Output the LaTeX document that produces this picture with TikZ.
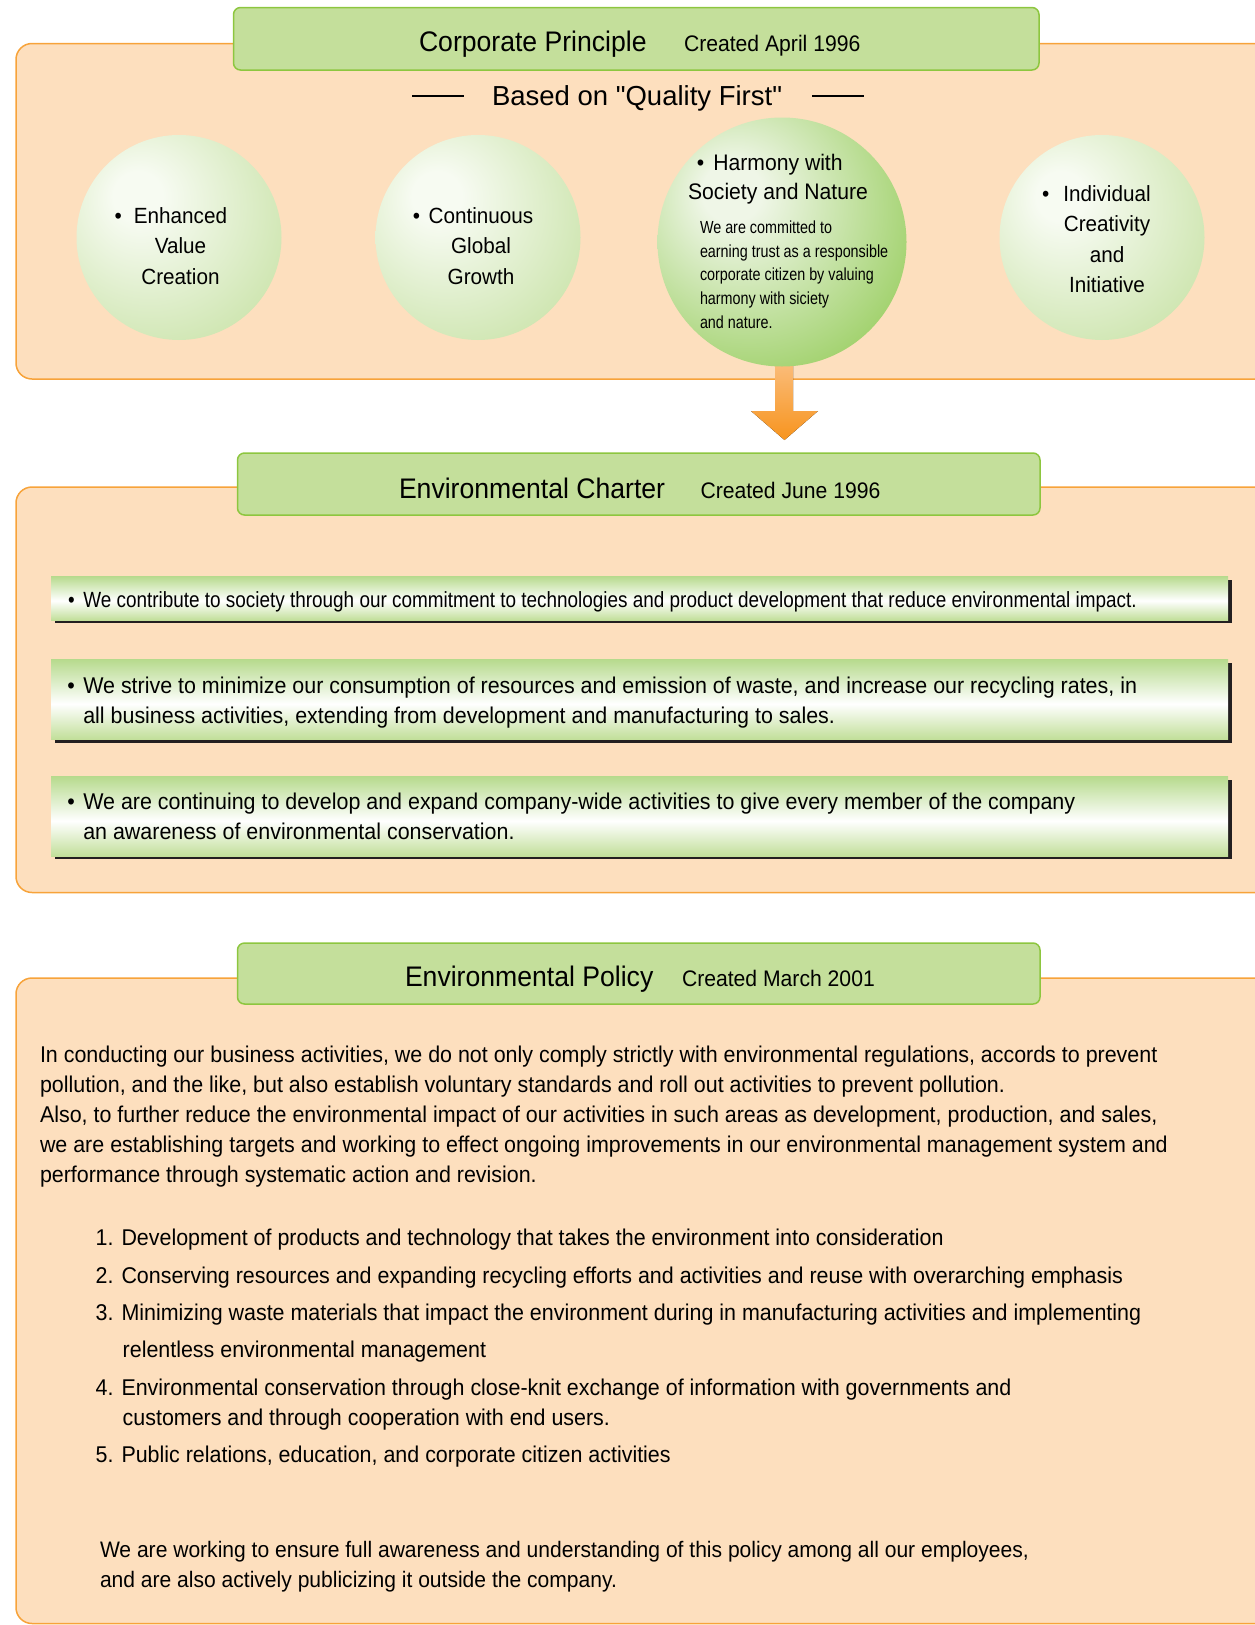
\documentclass[tikz,border=0pt]{standalone}
\usepackage{fontspec}
\setmainfont{Liberation Sans}[FakeStretch=0.94]
\newfontfamily\widefont{Liberation Sans}
\newfontfamily\narrowfont{Liberation Sans}[FakeStretch=0.82]
\newfontfamily\barnarrow{Liberation Sans}[FakeStretch=0.86]
\definecolor{peach}{HTML}{FDDFBE}
\definecolor{peachline}{HTML}{F7A33A}
\definecolor{hdrfill}{HTML}{C4DF9B}
\definecolor{hdrline}{HTML}{8DC63F}
\definecolor{barG}{HTML}{B6DA8C}
\definecolor{barG2}{HTML}{C2DF9A}
\definecolor{shadowc}{HTML}{231F20}
\definecolor{paleA}{HTML}{F7FBF2}
\definecolor{paleB}{HTML}{C6E1A3}
\definecolor{strongA}{HTML}{EFF6E7}
\definecolor{strongB}{HTML}{8BC74A}
\definecolor{arrTop}{HTML}{FBC690}
\definecolor{arrBot}{HTML}{F7941E}
\pgfdeclareradialshading{palecirc}{\pgfpoint{-11bp}{11bp}}{color(0bp)=(paleA); color(6bp)=(paleA); color(40bp)=(paleB); color(70bp)=(paleB)}
\pgfdeclareradialshading{strongcirc}{\pgfpoint{-11bp}{11bp}}{color(0bp)=(strongA); color(6bp)=(strongA); color(42bp)=(strongB); color(70bp)=(strongB)}
\pgfdeclareverticalshading{barshade}{100bp}{color(0bp)=(barG2); color(25bp)=(barG2); color(47bp)=(white); color(75bp)=(barG); color(100bp)=(barG)}
\begin{document}
\begin{tikzpicture}[x=1pt,y=-1pt,
  every node/.style={inner sep=0pt,outer sep=0pt},
  orangebox/.style={fill=peach,draw=peachline,line width=1.5pt,rounded corners=16pt},
  hdr/.style={fill=hdrfill,draw=hdrline,line width=1.5pt,rounded corners=7pt},
  barbox/.style={shade,shading=barshade},
  barshadow/.style={fill=shadowc},
  circpale/.style={circle,shade,shading=palecirc,minimum size=205pt},
  circstrong/.style={circle,shade,shading=strongcirc,minimum size=249pt},
  titletxt/.style={anchor=base west,font=\fontsize{28.3}{34}\selectfont},
  datetxt/.style={anchor=base west,font=\fontsize{22.5}{27}\selectfont},
  circtxt/.style={anchor=base,align=center,font=\fontsize{22}{30.4}\selectfont},
  bartxt/.style={anchor=base west,align=left,font=\fontsize{22.8}{30}\selectfont},
  bodytxt/.style={anchor=base west,align=left,font=\fontsize{22.8}{30}\selectfont}]
\useasboundingbox (0,0) rectangle (1255,1625);
\clip (0,0) rectangle (1255,1625);

% ---------- section 1 ----------
\draw[orangebox] (16,43.5) rectangle (1290,379);
\draw[hdr] (233.5,7.5) rectangle (1039,70);
\node[titletxt] (t1) at (419,51) {Corporate Principle};
\node[datetxt] (d1) at (684,51) {Created April 1996};
\node[anchor=base west,font=\widefont\fontsize{27.5}{33}\selectfont] (qf) at (492,105) {Based on "Quality First"};
\draw[line width=2pt] (412,96) -- (464,96);
\draw[line width=2pt] (812,96) -- (864,96);

% arrow
\fill[top color=arrTop,bottom color=arrBot] (775,345) -- (775,411) -- (751,411) -- (784.5,440) -- (818,411) -- (793,411) -- (793,345) -- cycle;

\node[circpale] (c1) at (179,237.5) {};
\node[circpale] (c2) at (478,237.5) {};
\node[circstrong] (c3) at (782,242) {};
\node[circpale] (c4) at (1102,237.5) {};

% multi-line nodes: base anchor = baseline of the last line
\node[circtxt] (c1t) at (180.5,284.1) {\llap{•\hspace{12pt}}Enhanced\\Value\\Creation};
\node[circtxt] (c2t) at (481,284.1) {\llap{•\hspace{8.5pt}}Continuous\\Global\\Growth};
\node[circtxt,font=\fontsize{22.5}{29.5}\selectfont] (c3t) at (778,199.5) {\llap{•\hspace{9pt}}Harmony with\\Society and Nature};
\node[anchor=base west,align=left,font=\narrowfont\fontsize{17.5}{23.75}\selectfont] (c3s) at (700,328.3) {We are committed to\\earning trust as a responsible\\corporate citizen by valuing\\harmony with siciety\\and nature.};
\node[circtxt] (c4t) at (1107,292.7) {\llap{•\hspace{14pt}}Individual\\Creativity\\and\\Initiative};

% ---------- section 2 ----------
\draw[orangebox] (16,487) rectangle (1290,892.5);
\draw[hdr] (237.5,453) rectangle (1040,515);
\node[titletxt] (t2) at (399,498.3) {Environmental Charter};
\node[datetxt] (d2) at (700.5,498.3) {Created June 1996};

\fill[barshadow] (55,580) rectangle (1232,623);
\path[barbox] (51,576) rectangle (1228,620);
\fill[barshadow] (55,663) rectangle (1232,742.5);
\path[barbox] (51,659) rectangle (1228,739);
\fill[barshadow] (55,780) rectangle (1232,859);
\path[barbox] (51,776) rectangle (1228,856);

\node[bartxt,font=\barnarrow\fontsize{22}{30}\selectfont] (b1t) at (83.3,607.3) {\llap{•\hspace{8.5pt}}We contribute to society through our commitment to technologies and product development that reduce environmental impact.};
\node[bartxt] (b2t) at (83.3,723.3) {\llap{•\hspace{8.5pt}}We strive to minimize our consumption of resources and emission of waste, and increase our recycling rates, in\\all business activities, extending from development and manufacturing to sales.};
\node[bartxt] (b3t) at (83.3,839.5) {\llap{•\hspace{8.5pt}}We are continuing to develop and expand company-wide activities to give every member of the company\\an awareness of environmental conservation.};

% ---------- section 3 ----------
\draw[orangebox] (16,978) rectangle (1290,1623.5);
\draw[hdr] (237.5,943) rectangle (1040,1004);
\node[titletxt] (t3) at (405,986) {Environmental Policy};
\node[datetxt] (d3) at (682,986) {Created March 2001};

\node[bodytxt] (p1) at (40,1182.7) {In conducting our business activities, we do not only comply strictly with environmental regulations, accords to prevent\\pollution, and the like, but also establish voluntary standards and roll out activities to prevent pollution.\\Also, to further reduce the environmental impact of our activities in such areas as development, production, and sales,\\we are establishing targets and working to effect ongoing improvements in our environmental management system and\\performance through systematic action and revision.};

\node[bodytxt] (l1) at (95.7,1245) {1. Development of products and technology that takes the environment into consideration};
\node[bodytxt] (l2) at (95.7,1283.3) {2. Conserving resources and expanding recycling efforts and activities and reuse with overarching emphasis};
\node[bodytxt] (l3) at (95.7,1357.7) {3. Minimizing waste materials that impact the environment during in manufacturing activities and implementing\\[7.7pt]\hspace*{27pt}relentless environmental management};
\node[bodytxt] (l4) at (95.7,1425) {4. Environmental conservation through close-knit exchange of information with governments and\\\hspace*{27pt}customers and through cooperation with end users.};
\node[bodytxt] (l5) at (95.7,1462.7) {5. Public relations, education, and corporate citizen activities};
\node[bodytxt,font=\fontsize{22.4}{29.5}\selectfont] (fin) at (100,1587) {We are working to ensure full awareness and understanding of this policy among all our employees,\\and are also actively publicizing it outside the company.};
\end{tikzpicture}
\end{document}
